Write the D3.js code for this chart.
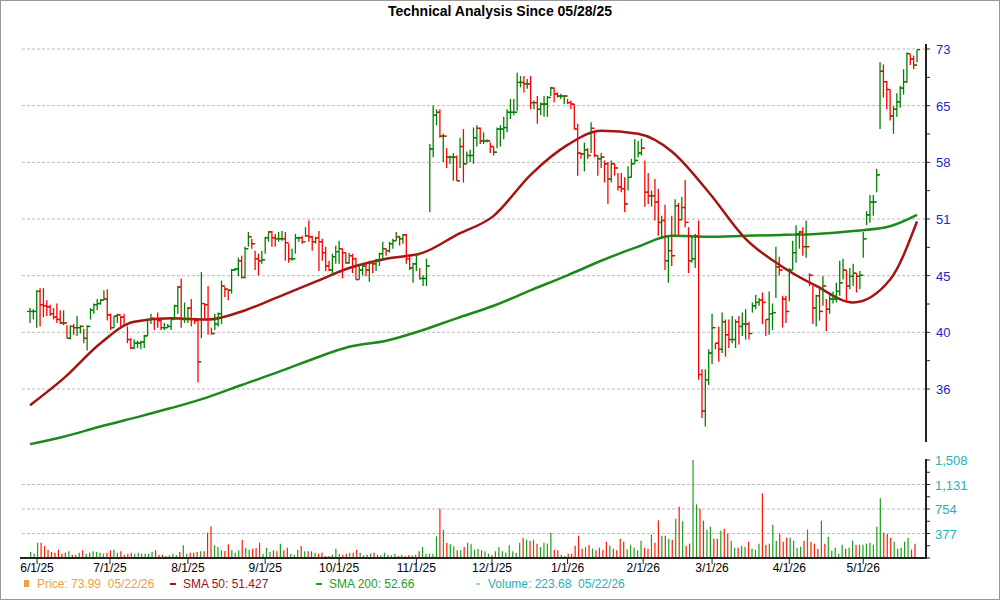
<!DOCTYPE html>
<html>
<head>
<meta charset="utf-8">
<script src="https://cdn.jsdelivr.net/npm/d3@7"></script>
<style>
  body { margin: 0; background: #fff; }
  text { font-family: "Liberation Sans", Arial, sans-serif; white-space: pre; }
</style>
</head>
<body>
<div id="chart"></div>
<script>
// daily bars (high / low / close)
var highs = [42.6,42.5,44.2,44.4,44.4,43.3,42.9,42.6,43.0,42.4,42.4,41.1,41.1,41.2,41.9,41.1,40.8,41.1,42.6,43.0,43.4,43.4,44.2,44.3,42.1,41.9,42.1,41.9,42.1,41.0,40.0,39.9,39.8,39.8,40.3,41.6,42.1,41.7,42.2,41.6,41.3,41.2,41.6,42.9,44.6,45.3,43.1,42.7,43.4,41.6,41.6,45.9,43.0,44.6,40.9,42.1,42.2,45.1,44.5,44.3,46.2,
  46.3,47.3,47.5,48.4,49.9,49.2,48.0,47.7,48.0,49.4,50.0,50.0,49.7,49.9,50.0,49.9,48.7,48.2,49.7,49.4,49.5,50.4,51.1,49.5,49.4,50.0,49.2,48.4,47.0,47.7,48.5,49.0,48.2,47.8,47.8,47.7,47.3,46.7,46.7,46.8,47.0,46.8,47.2,47.8,48.9,48.2,48.9,49.2,49.9,49.5,49.7,49.7,47.5,46.8,47.7,46.3,45.6,47.2,
  59.9,64.9,64.4,64.4,61.2,59.4,58.5,58.8,58.5,60.7,61.8,59.0,59.2,62.0,62.3,62.0,61.4,60.5,60.1,59.6,62.0,62.3,63.4,64.4,65.8,65.8,69.5,69.0,69.0,68.6,69.0,65.6,66.2,65.3,66.2,66.2,67.5,67.4,66.7,66.5,66.3,65.8,65.6,65.1,62.5,58.8,60.1,59.4,62.7,61.4,58.5,58.8,57.9,57.7,57.9,57.5,56.4,56.4,55.9,57.2,58.1,60.5,60.3,60.6,57.9,56.4,54.4,55.7,
  54.6,51.6,52.8,49.5,51.6,53.4,53.0,53.7,55.6,50.4,49.5,49.7,51.1,37.5,37.5,39.1,42.1,39.6,41.0,42.2,41.6,41.6,41.9,41.6,41.9,42.2,42.5,41.4,43.1,43.8,43.5,44.0,41.6,44.1,43.0,48.4,47.4,43.7,43.7,46.3,49.0,50.6,50.0,50.4,51.1,45.8,44.6,43.8,44.6,45.5,43.4,43.8,44.1,44.9,47.0,47.2,46.1,46.3,46.7,45.8,46.0,49.9,
  52.1,53.9,53.9,56.9,71.0,70.7,68.3,67.1,64.8,66.6,67.6,70.0,72.5,72.2,72.0,72.9];
var lows = [41.3,41.6,40.9,41.0,41.8,41.9,41.9,41.6,41.3,41.2,41.1,40.0,39.9,40.3,40.2,40.4,39.6,39.0,41.6,42.1,42.4,42.9,43.3,41.5,40.7,40.9,41.3,41.0,41.1,39.6,39.1,39.1,39.2,39.1,39.2,40.2,41.2,40.7,40.9,40.7,40.7,40.9,40.7,41.6,42.1,40.9,41.3,41.3,41.0,41.2,36.5,40.0,41.5,40.3,40.3,40.7,41.0,41.2,43.6,43.3,43.9,
  46.0,45.5,45.3,45.3,48.4,48.2,46.1,45.6,46.7,47.7,48.9,48.4,48.4,48.9,49.0,47.0,46.8,47.0,47.7,48.9,48.7,49.4,48.9,48.0,48.7,46.0,47.0,46.0,46.0,45.6,46.7,46.7,45.3,46.7,46.7,45.8,45.2,45.2,45.6,45.5,45.0,45.8,46.0,46.5,47.2,47.5,47.8,48.2,49.0,48.5,48.7,46.7,46.1,44.9,46.0,45.2,44.6,44.6,
  52.0,58.3,62.3,60.7,57.7,57.0,57.5,55.5,55.5,57.0,55.3,57.5,57.7,57.5,59.6,59.9,59.9,60.1,58.8,58.5,59.4,59.6,60.5,61.4,63.1,63.6,64.2,67.4,66.7,67.2,64.4,64.4,62.5,63.6,63.4,63.4,66.2,65.3,66.0,65.8,65.1,65.1,64.4,61.8,56.1,58.1,56.6,58.1,58.8,58.3,56.1,57.0,55.3,52.9,55.3,56.1,54.4,54.2,52.0,54.4,55.9,57.5,58.3,58.5,52.6,52.9,52.6,51.1,
  49.5,49.2,46.1,44.9,46.5,49.5,49.5,51.1,50.4,45.8,46.8,46.3,36.7,33.9,33.3,36.3,37.9,39.1,38.1,38.8,38.5,39.2,39.6,39.2,39.5,40.2,39.9,39.9,42.2,42.5,42.8,41.2,40.2,40.3,40.7,43.5,45.6,40.9,41.3,43.2,46.1,46.8,48.2,47.5,47.3,44.6,41.2,41.0,41.5,42.8,40.6,42.1,43.0,43.1,43.7,45.2,43.1,44.3,44.6,44.0,44.3,47.3,
  50.6,50.9,51.6,54.2,61.8,66.0,64.4,62.9,61.2,63.4,64.6,66.4,68.0,70.6,70.0,71.0];
var closes = [42.3,42.3,44.1,42.9,42.8,42.7,42.1,41.8,41.6,41.3,41.3,40.0,41.0,40.9,40.9,41.0,40.0,41.0,42.4,42.9,43.0,43.3,43.4,42.0,40.9,41.9,42.0,41.8,41.1,39.9,39.2,39.6,39.6,39.7,40.2,41.6,41.7,41.6,41.5,40.9,40.9,41.0,41.6,42.8,44.5,41.6,41.6,42.6,41.6,41.5,38.1,43.0,42.9,41.6,40.4,41.2,42.1,44.6,44.3,44.2,46.1,
  46.2,47.0,45.4,48.2,49.4,48.7,47.2,47.0,47.1,49.3,49.9,49.3,49.2,49.2,49.2,48.8,47.2,47.2,49.3,49.3,48.9,49.5,49.4,48.9,49.3,48.9,47.8,46.5,46.1,47.4,47.9,48.2,47.8,46.8,47.5,47.2,45.2,46.1,46.5,46.1,46.8,46.7,47.1,47.7,48.2,48.0,48.7,49.0,49.4,49.2,49.6,47.2,46.3,46.7,47.6,45.3,45.3,46.5,
  59.3,63.6,64.0,60.9,60.9,58.3,58.3,58.3,55.5,59.6,57.5,58.5,58.5,60.7,61.9,60.3,60.3,60.3,59.6,58.9,61.8,61.8,62.0,64.0,64.0,64.0,68.1,68.1,67.9,67.9,65.3,65.3,64.4,65.1,65.1,66.0,67.3,66.5,66.2,66.2,66.2,65.3,65.1,61.8,58.8,58.7,59.2,58.5,61.9,58.5,58.1,58.3,57.5,55.7,57.5,57.0,54.8,54.6,52.9,55.9,57.5,57.9,58.8,59.4,54.2,53.8,53.8,53.1,
  50.9,51.1,47.0,48.0,47.5,52.7,51.2,52.5,50.9,47.0,47.2,49.5,37.1,34.4,36.7,38.8,40.9,39.6,39.1,41.4,40.3,39.9,39.9,41.4,41.0,41.2,41.2,40.4,42.8,43.1,43.3,43.1,41.6,42.1,42.2,46.4,46.1,43.4,42.3,46.1,47.8,49.7,49.9,48.4,48.4,45.6,42.6,43.7,42.3,44.6,42.5,43.4,43.4,44.1,44.9,46.1,44.6,45.5,45.8,45.5,45.6,49.2,
  51.7,53.1,53.1,56.2,69.7,68.2,67.1,63.5,64.4,65.4,67.3,68.2,72.3,71.5,70.6,72.9];
var volumes = [92,67,236,236,185,128,92,82,128,67,82,103,51,51,82,118,67,82,103,92,82,67,82,118,128,82,103,51,67,82,67,82,67,67,67,92,118,51,51,31,41,67,41,92,195,67,82,82,92,103,103,390,487,195,169,118,108,210,118,82,118,282,159,128,144,154,236,67,159,92,118,103,221,118,159,67,51,128,185,103,103,103,82,67,82,31,31,51,144,67,51,67,82,82,128,82,41,51,67,82,51,41,82,51,41,67,31,51,31,41,41,51,103,169,67,67,67,333,759,436,236,210,180,118,118,169,236,210,128,144,118,103,67,41,103,169,103,82,195,103,82,
  236,313,282,262,282,221,169,236,221,390,128,118,51,31,67,67,190,344,144,169,205,144,118,159,128,251,190,144,118,298,251,133,205,159,118,267,159,144,359,236,580,344,344,298,282,605,790,564,190,221,1508,826,759,575,436,482,298,298,421,451,374,267,159,159,190,174,251,144,128,221,995,205,221,513,267,374,251,313,313,267,159,174,267,436,251,221,144,575,221,328,113,159,67,205,144,159,267,205,205,205,221,236,205,482,918,390,374,313,251,144,159,251,313,128,221];
var sma50Idx = [0,10,21,31,42,53,63,74,85,95,106,117,127,138,149,160,170,181,191,202,213,224,234,245,256,264];
var sma50 = [34.8,36.8,39.6,41.4,41.7,41.6,42.3,43.6,45.0,46.3,47.2,47.8,49.6,51.6,56.2,59.8,61.6,61.2,59.0,54.2,49.2,46.4,44.6,43.1,45.2,51.0];
var sma200 = [32.1,32.6,33.3,33.9,34.6,35.4,36.3,37.3,38.4,39.3,39.8,40.7,41.7,42.8,44.2,45.6,47.0,48.4,49.5,49.4,49.5,49.6,49.7,50.0,50.5,51.7];
var monthLabels = ["6/1/25","7/1/25","8/1/25","9/1/25","10/1/25","11/1/25","12/1/25","1/1/26","2/1/26","3/1/26","4/1/26","5/1/26"];
var monthIdx = [2.1,23.8,47,70,92,115,137.5,160,182.5,203,226,248];
var priceLabels = ["36","40","45","51","58","65","73"];
var volTicks = [377,754,1131,1508];

var W = 1000, H = 600;
var svg = d3.select("#chart").append("svg").attr("width", W).attr("height", H);
svg.append("rect").attr("x", 0.5).attr("y", 0.5).attr("width", W - 1).attr("height", H - 1)
  .attr("fill", "#fff").attr("stroke", "#999");

svg.append("text").attr("x", 500).attr("y", 16).attr("text-anchor", "middle")
  .attr("font-size", 14).attr("font-weight", "bold").text("Technical Analysis Since 05/28/25");

var n = closes.length;
var x = d3.scaleLinear().domain([0, n - 1]).range([30, 917]);
var xv = d3.scaleLinear().domain([0, volumes.length - 1]).range([30.7, 915]);
var y = d3.scaleLog().domain([36, 73]).range([389, 49]);
var yv = d3.scaleLinear().domain([0, 1508]).range([558, 460]);
var axisX = 926;

// price grid + axis
var priceTicks = priceLabels.map(function(d, i) { return 36 * Math.pow(73 / 36, i / 6); });
svg.append("g").selectAll("line").data(priceTicks).join("line")
  .attr("x1", 22).attr("x2", axisX).attr("y1", d => y(d)).attr("y2", d => y(d))
  .attr("stroke", "#bbb").attr("stroke-dasharray", "3,2");
svg.append("line").attr("x1", axisX).attr("x2", axisX).attr("y1", 44).attr("y2", 442)
  .attr("stroke", "#222").attr("stroke-width", 2);
var minor = d3.range(0, 6.01, 0.5).map(i => 36 * Math.pow(73 / 36, i / 6));
svg.append("g").selectAll("line").data(minor).join("line")
  .attr("x1", axisX).attr("x2", axisX + 4).attr("y1", d => y(d)).attr("y2", d => y(d)).attr("stroke", "#222");
svg.append("g").selectAll("text").data(priceTicks).join("text")
  .attr("x", axisX + 10).attr("y", d => y(d) + 5).attr("font-size", 13).attr("fill", "#2424c8")
  .text((d, i) => priceLabels[i]);

// volume grid + axis
svg.append("g").selectAll("line").data(volTicks.slice(0, 3)).join("line")
  .attr("x1", 22).attr("x2", axisX).attr("y1", d => yv(d)).attr("y2", d => yv(d))
  .attr("stroke", "#bbb").attr("stroke-dasharray", "3,2");
svg.append("line").attr("x1", axisX).attr("x2", axisX).attr("y1", 459).attr("y2", 559)
  .attr("stroke", "#222").attr("stroke-width", 2);
svg.append("g").selectAll("line").data(d3.range(0, 1509, 1508 / 8)).join("line")
  .attr("x1", axisX).attr("x2", axisX + 4).attr("y1", d => yv(d)).attr("y2", d => yv(d)).attr("stroke", "#222");
svg.append("g").selectAll("text").data(volTicks).join("text")
  .attr("x", axisX + 9).attr("y", d => yv(d) + 5).attr("font-size", 13).attr("fill", "#1fb0b8")
  .text(d => d3.format(",")(d));

function up(i) { return i <= 0 || closes[i] >= closes[i - 1]; }

// volume bars, coloured by the price bar at the same place
svg.append("g").selectAll("line").data(volumes).join("line")
  .attr("x1", (d, i) => xv(i)).attr("x2", (d, i) => xv(i))
  .attr("y1", yv(0)).attr("y2", d => yv(d))
  .attr("stroke", (d, i) => up(Math.round(x.invert(xv(i)))) ? "#1aa01a" : "#ff1a00").attr("stroke-width", 1.2);
svg.append("line").attr("x1", 20).attr("x2", axisX).attr("y1", 558).attr("y2", 558)
  .attr("stroke", "#222").attr("stroke-width", 2);

// x axis ticks
svg.append("g").selectAll("line").data(monthIdx).join("line")
  .attr("x1", d => x(d)).attr("x2", d => x(d)).attr("y1", 558).attr("y2", 564).attr("stroke", "#222");
svg.append("g").selectAll("text").data(monthIdx).join("text")
  .attr("x", d => x(d)).attr("y", 572).attr("text-anchor", "middle").attr("font-size", 12)
  .text((d, i) => monthLabels[i]);

// SMA lines
var line = d3.line().x(d => x(d[0])).y(d => y(d[1])).curve(d3.curveMonotoneX);
svg.append("path").attr("d", line(sma50Idx.map((d, i) => [d, sma200[i]])))
  .attr("fill", "none").attr("stroke", "#1a8a1a").attr("stroke-width", 2.5);
svg.append("path").attr("d", line(sma50Idx.map((d, i) => [d, sma50[i]])))
  .attr("fill", "none").attr("stroke", "#a31515").attr("stroke-width", 2.5);

// OHLC bars (open tick = previous close)
var bars = svg.append("g").selectAll("g").data(closes).join("g")
  .attr("stroke", (d, i) => up(i) ? "#008000" : "#ff0000").attr("stroke-width", 1.3);
bars.append("line").attr("x1", (d, i) => x(i)).attr("x2", (d, i) => x(i))
  .attr("y1", (d, i) => y(highs[i])).attr("y2", (d, i) => y(lows[i]));
bars.append("line").attr("x1", (d, i) => x(i) - 3).attr("x2", (d, i) => x(i))
  .attr("y1", (d, i) => y(i ? closes[i - 1] : d)).attr("y2", (d, i) => y(i ? closes[i - 1] : d));
bars.append("line").attr("x1", (d, i) => x(i)).attr("x2", (d, i) => x(i) + 3)
  .attr("y1", d => y(d)).attr("y2", d => y(d));

// legend
var lg = svg.append("g").attr("font-size", 12);
lg.append("rect").attr("x", 24).attr("y", 580).attr("width", 5).attr("height", 7).attr("fill", "#f0a040");
lg.append("text").attr("x", 37).attr("y", 588).attr("fill", "#f0a040").text("Price: 73.99  05/22/26");
lg.append("line").attr("x1", 170).attr("x2", 176).attr("y1", 584).attr("y2", 584).attr("stroke", "#b01010").attr("stroke-width", 2);
lg.append("text").attr("x", 183).attr("y", 588).attr("fill", "#a01010").text("SMA 50: 51.427");
lg.append("line").attr("x1", 316).attr("x2", 322).attr("y1", 584).attr("y2", 584).attr("stroke", "#20a020").attr("stroke-width", 2);
lg.append("text").attr("x", 329).attr("y", 588).attr("fill", "#20a020").text("SMA 200: 52.66");
lg.append("line").attr("x1", 476).attr("x2", 480).attr("y1", 584).attr("y2", 584).attr("stroke", "#1fb0b8").attr("stroke-width", 1);
lg.append("text").attr("x", 488).attr("y", 588).attr("fill", "#1fb0b8").text("Volume: 223.68  05/22/26");
</script>
</body>
</html>
